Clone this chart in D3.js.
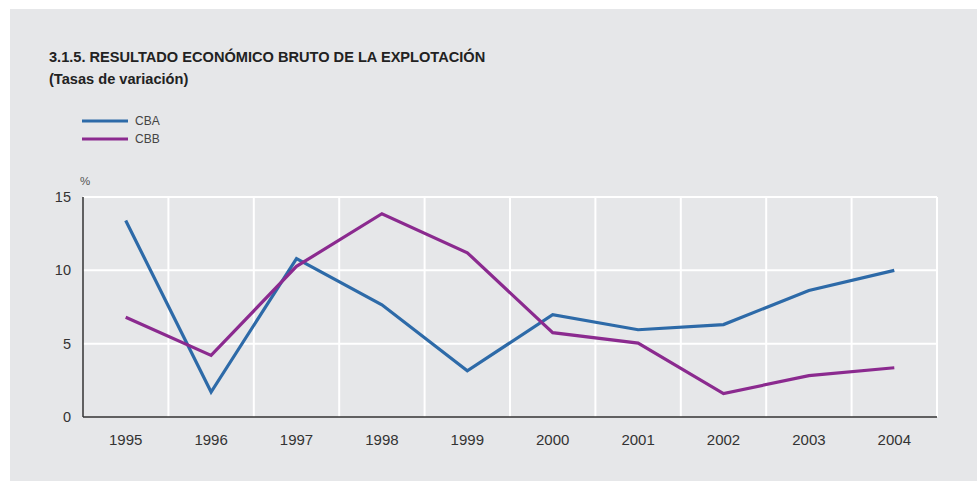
<!DOCTYPE html>
<html>
<head>
<meta charset="utf-8">
<script src="https://cdn.jsdelivr.net/npm/d3@7"></script>
<style>
	body { margin: 0; background: #fff; }
	svg text { font-family: "Liberation Sans", Arial, sans-serif; }
</style>
</head>
<body>
<div id="root"></div>
<script>
const years = ["1995", "1996", "1997", "1998", "1999", "2000", "2001", "2002", "2003", "2004"];
const cba = [13.4, 1.7, 10.8, 7.65, 3.15, 6.97, 5.95, 6.3, 8.63, 10.0];
const cbb = [6.8, 4.2, 10.27, 13.86, 11.2, 5.75, 5.04, 1.6, 2.82, 3.36];
const yTicks = [0, 5, 10, 15];
const seriesNames = ["CBA", "CBB"];
const seriesColors = ["#2d6aa8", "#8b2a8f"];

const width = 977, height = 484;
const margin = { left: 83, right: 40, top: 197, bottom: 67 };

const svg = d3.select("#root")
	.append("svg")
		.attr("width", width)
		.attr("height", height);

// panel
svg.append("rect")
	.attr("x", 10).attr("y", 9)
	.attr("width", width - 10).attr("height", 472)
	.attr("fill", "#e6e7e9");

// title
svg.append("text")
	.attr("x", 49).attr("y", 62)
	.attr("font-size", 14.6).attr("font-weight", "bold").attr("fill", "#222")
	.text("3.1.5. RESULTADO ECONÓMICO BRUTO DE LA EXPLOTACIÓN");
svg.append("text")
	.attr("x", 49).attr("y", 84)
	.attr("font-size", 14.6).attr("font-weight", "bold").attr("fill", "#222")
	.text("(Tasas de variación)");

// legend
const legend = svg.append("g");
seriesNames.forEach((name, i) => {
	const y = 121 + i * 18;
	legend.append("line")
		.attr("x1", 82).attr("x2", 128).attr("y1", y).attr("y2", y)
		.attr("stroke", seriesColors[i]).attr("stroke-width", 3);
	legend.append("text")
		.attr("x", 135).attr("y", y).attr("dy", "0.35em")
		.attr("font-size", 12).attr("fill", "#444")
		.text(name);
});

const x = d3.scaleBand()
	.domain(years)
	.range([margin.left, width - margin.right]);

const y = d3.scaleLinear()
	.domain([0, 15])
	.range([height - margin.bottom, margin.top]);

const g = svg.append("g");

// horizontal grid
g.selectAll(".hgrid")
	.data(yTicks.filter(d => d > 0))
	.enter()
	.append("line")
		.attr("x1", margin.left).attr("x2", width - margin.right)
		.attr("y1", d => y(d)).attr("y2", d => y(d))
		.attr("stroke", "#fff").attr("stroke-width", 2);

// vertical grid at band edges
g.selectAll(".vgrid")
	.data(years.slice(1).concat(["end"]))
	.enter()
	.append("line")
		.attr("x1", (d, i) => margin.left + (i + 1) * x.step())
		.attr("x2", (d, i) => margin.left + (i + 1) * x.step())
		.attr("y1", y(15)).attr("y2", y(0))
		.attr("stroke", "#fff").attr("stroke-width", 2);

// axes
g.append("line")
	.attr("x1", margin.left).attr("x2", width - margin.right)
	.attr("y1", y(0)).attr("y2", y(0))
	.attr("stroke", "#333").attr("stroke-width", 1.5);
g.append("line")
	.attr("x1", margin.left).attr("x2", margin.left)
	.attr("y1", y(15)).attr("y2", y(0))
	.attr("stroke", "#333").attr("stroke-width", 1.5);

g.selectAll(".ylab")
	.data(yTicks)
	.enter()
	.append("text")
		.attr("x", 71).attr("y", d => y(d)).attr("dy", "0.35em")
		.attr("text-anchor", "end")
		.attr("font-size", 14.5).attr("fill", "#333")
		.text(d => d);

svg.append("text")
	.attr("x", 80).attr("y", 185)
	.attr("font-size", 11.5).attr("fill", "#555")
	.text("%");

g.selectAll(".xlab")
	.data(years)
	.enter()
	.append("text")
		.attr("x", d => x(d) + x.bandwidth() / 2)
		.attr("y", 440).attr("dy", "0.35em")
		.attr("text-anchor", "middle")
		.attr("font-size", 15).attr("fill", "#333")
		.text(d => d);

// lines
const line = d3.line()
	.x((d, i) => x(years[i]) + x.bandwidth() / 2)
	.y(d => y(d));

[cba, cbb].forEach((values, i) => {
	g.append("path")
		.datum(values)
		.attr("fill", "none")
		.attr("stroke", seriesColors[i])
		.attr("stroke-width", 3.2)
		.attr("d", line);
});
</script>
</body>
</html>
